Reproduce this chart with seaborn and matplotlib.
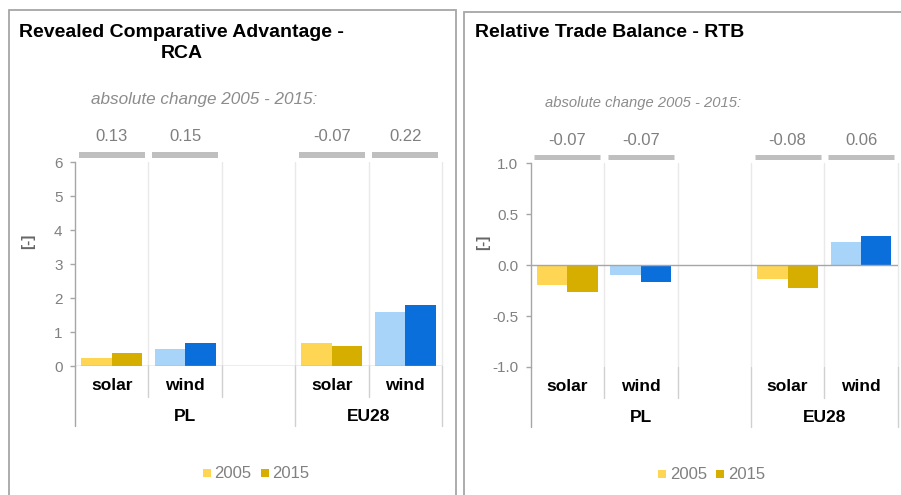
import matplotlib
matplotlib.use("Agg")
import matplotlib.pyplot as plt
import matplotlib.transforms as mtransforms
from matplotlib.patches import Rectangle
from matplotlib.lines import Line2D
import seaborn as sns
import pandas as pd

# ---------------- data ----------------
regions = ["PL", "PL", "EU28", "EU28"]
techs = ["solar", "wind", "solar", "wind"]
years = ["2005", "2015"]
rca_2005 = [0.24, 0.51, 0.67, 1.58]
rca_2015 = [0.37, 0.67, 0.60, 1.80]
rtb_2005 = [-0.19, -0.10, -0.14, 0.23]
rtb_2015 = [-0.26, -0.17, -0.22, 0.29]
rca_change = ["0.13", "0.15", "-0.07", "0.22"]
rtb_change = ["-0.07", "-0.07", "-0.08", "0.06"]
slot_order = ["PL solar", "PL wind", "PL gap", "EU28 solar", "EU28 wind"]
group_labels = ["PL", "EU28"]

solar_colors = {"2005": "#FFD653", "2015": "#D6AE00"}
wind_colors = {"2005": "#A9D4FA", "2015": "#0A6FDA"}

sns.set_theme(style="white")
plt.rcParams["font.family"] = ["Liberation Sans", "DejaVu Sans"]

def make_df(v05, v15):
    rows = []
    for r, t, a, b in zip(regions, techs, v05, v15):
        rows.append({"slot": f"{r} {t}", "tech": t, "year": "2005", "value": a})
        rows.append({"slot": f"{r} {t}", "tech": t, "year": "2015", "value": b})
    return pd.DataFrame(rows)

fig = plt.figure(figsize=(9.01, 4.95), dpi=100)
W, H = 901, 495

def px_axes(x0, y0, x1, y1):
    return fig.add_axes([x0 / W, 1 - y1 / H, (x1 - x0) / W, (y1 - y0) / H])

# panel borders
for (x0, y0, x1) in [(9, 10, 456.5), (464, 11.5, 910)]:
    fig.add_artist(Rectangle((x0 / W, 1 - 510 / H), (x1 - x0) / W, (510 - y0) / H,
                             transform=fig.transFigure, fill=False,
                             edgecolor="#A6A6A6", linewidth=1.3))

# titles
fig.text(19 / W, 1 - 36.7 / H, "Revealed Comparative Advantage -", fontsize=14,
         fontweight="bold", color="black", ha="left", va="baseline")
fig.text(182 / W, 1 - 58.3 / H, "RCA", fontsize=14, fontweight="bold",
         color="black", ha="center", va="baseline")
fig.text(475 / W, 1 - 36.7 / H, "Relative Trade Balance - RTB", fontsize=14,
         fontweight="bold", color="black", ha="left", va="baseline")

ax1 = px_axes(75, 162, 442, 366)
ax2 = px_axes(530.7, 163.3, 897.7, 367)

specs = [
    (ax1, make_df(rca_2005, rca_2015), (0, 6), [0, 1, 2, 3, 4, 5, 6], "{:.0f}", rca_change,
     dict(bar_y=1.036, bar_lw=4.3, chg_y=1.124, abs_x=0.351, abs_y=1.304, abs_fs=12.3,
          tick_y=-0.098, grp_y=-0.248, sep_t=-0.15, sep_g=-0.294, leg_y=-0.529,
          lab_x=-0.128, lab_y=0.609)),
    (ax2, make_df(rtb_2005, rtb_2015), (-1, 1), [-1.0, -0.5, 0.0, 0.5, 1.0], "{:.1f}", rtb_change,
     dict(bar_y=1.031, bar_lw=3.6, chg_y=1.114, abs_x=0.306, abs_y=1.296, abs_fs=10.6,
          tick_y=-0.098, grp_y=-0.249, sep_t=-0.152, sep_g=-0.295, leg_y=-0.530,
          lab_x=-0.13, lab_y=0.61)),
]

for ax, df, ylim, yticks, fmt, changes, p in specs:
    for i in [0.5, 1.5, 2.5, 3.5, 4.5]:
        ax.axvline(i, color="#E9E9E9", lw=1, zorder=0, clip_on=False)
    for tech, pal in [("solar", solar_colors), ("wind", wind_colors)]:
        sns.barplot(data=df[df["tech"] == tech], x="slot", y="value", hue="year",
                    order=slot_order, hue_order=years, palette=pal, width=0.83,
                    saturation=1, errorbar=None, linewidth=0, legend=False, ax=ax,
                    zorder=2)
    ax.set_xlim(-0.5, 4.5)
    ax.set_ylim(*ylim)
    ax.set_yticks(yticks)
    ax.set_yticklabels([fmt.format(v) for v in yticks])
    ax.set_xlabel("")
    ax.set_ylabel("")
    ax.axhline(0, color="#A6A6A6", lw=1, zorder=3)
    for s in ["top", "right", "bottom"]:
        ax.spines[s].set_visible(False)
    ax.spines["left"].set_color("#A6A6A6")
    ax.spines["left"].set_linewidth(1)
    ax.tick_params(axis="y", left=True, length=3.5, width=1, color="#A6A6A6",
                   labelsize=11, labelcolor="#808080", pad=5.5)
    ax.tick_params(axis="x", bottom=False, labelbottom=False)
    ax.set_facecolor("none")

    trans = mtransforms.blended_transform_factory(ax.transData, ax.transAxes)
    data_slots = [0, 1, 3, 4]
    for i, ch, t in zip(data_slots, changes, techs):
        ax.plot([i - 0.45, i + 0.45], [p["bar_y"]] * 2, transform=trans, lw=p["bar_lw"],
                color="#BFBFBF", solid_capstyle="butt", clip_on=False)
        ax.text(i, p["chg_y"], ch, transform=trans, ha="center", va="center",
                fontsize=12, color="#7F7F7F")
        ax.text(i, p["tick_y"], t, transform=trans, ha="center", va="center",
                fontsize=12.5, fontweight="bold", color="black")
    ax.text(p["abs_x"], p["abs_y"], "absolute change 2005 - 2015:", transform=ax.transAxes,
            ha="center", va="center", fontsize=p["abs_fs"], style="italic", color="#8C8C8C")
    for xg, g in zip([1.0, 3.5], group_labels):
        ax.text(xg, p["grp_y"], g, transform=trans, ha="center", va="center",
                fontsize=12.5, fontweight="bold", color="black")
    for xs in [0.5, 1.5, 3.5]:
        ax.plot([xs, xs], [0, p["sep_t"]], transform=trans, color="#D0D0D0", lw=1,
                clip_on=False)
    for xs in [-0.5, 2.5, 4.5]:
        ax.plot([xs, xs], [0, p["sep_g"]], transform=trans,
                color="#A6A6A6" if xs == -0.5 else "#D0D0D0", lw=1, clip_on=False)
    ax.text(p["lab_x"], p["lab_y"], "[-]", transform=ax.transAxes, rotation=90,
            ha="center", va="center", fontsize=11, fontweight="bold", color="#666666")

    handles = [Line2D([], [], marker="s", linestyle="", markersize=6,
                      markerfacecolor=solar_colors[y], markeredgewidth=0) for y in years]
    leg = ax.legend(handles, years, loc="center", bbox_to_anchor=(0.492, p["leg_y"]),
                    ncol=2, frameon=False, handlelength=0.6, handletextpad=0.15,
                    columnspacing=0.5, fontsize=12)
    for txt in leg.get_texts():
        txt.set_color("#808080")

fig.savefig("out.png", dpi=100)
